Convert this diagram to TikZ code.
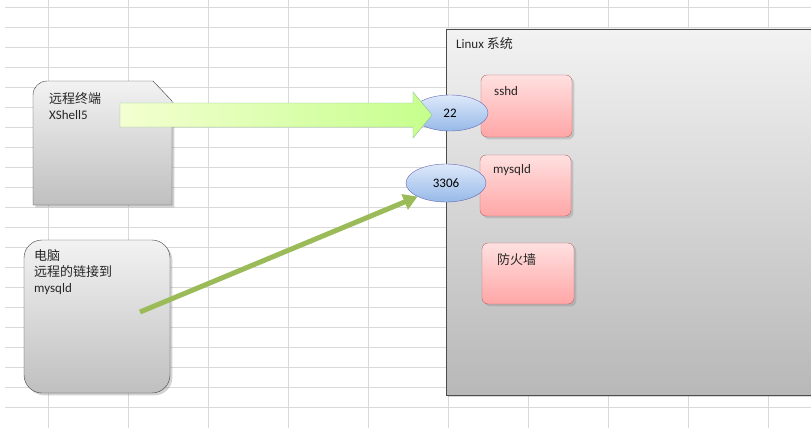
\documentclass[tikz,border=0pt]{standalone}
\usepackage{fontspec}
\setmainfont{Carlito}
\newfontfamily\cjk{Noto Sans CJK SC}
\usetikzlibrary{shapes.geometric,shapes.misc,shadows,arrows.meta}
\definecolor{portA}{RGB}{222,233,250}
\definecolor{portB}{RGB}{150,185,232}
\begin{document}
\begin{tikzpicture}[x=1pt,y=-1pt,
  lbl/.style={font=\fontsize{13}{16}\selectfont,text=black!85,align=left,anchor=north west,inner sep=0},
  svc/.style={draw=red!55!black!60,rounded corners=6pt,top color=red!12,bottom color=red!35,drop shadow={opacity=0.3}},
  port/.style={ellipse,draw=blue!50!black!60,top color=portA,bottom color=portB,inner sep=0,font=\fontsize{13}{15}\selectfont},
  grey/.style={draw=black!75,top color=black!5,bottom color=black!25,drop shadow={opacity=0.35}}]
\useasboundingbox (0,0) rectangle (811,428);
\fill[white] (0,0) rectangle (811,428);
\foreach \x in {48,128,208,288,368,448,528,608,688,768} \draw[black!15] (\x,0) -- (\x,428);
\foreach \k in {0,...,20} \draw[black!15] (5,7+20*\k) -- (811,7+20*\k);
% Linux box
\shade[top color=black!5,bottom color=black!28,draw=black!70,drop shadow={opacity=0.3}] (446,29) rectangle (815,395);
\node[lbl] (linux) at (456,37) {Linux {\cjk 系统}};
% services
\draw[svc] (481,75) rectangle (572,137); \node[lbl] (sshd) at (494,86) {sshd};
\draw[svc] (480,155) rectangle (571,216); \node[lbl] (mysqld) at (493,164) {mysqld};
\draw[svc] (482,243) rectangle (574,304); \node[lbl] (fw) at (497,253) {\cjk 防火墙};
% left boxes
\draw[grey] (33,205) [rounded corners=14pt] -- (33,81) [sharp corners] -- (153,81) -- (172,101) -- (172,205) -- cycle;
\node[lbl] (term) at (49,92) {{\cjk 远程终端}\\[0pt]XShell5};
\draw[grey,rounded corners=18pt] (24,240) rectangle (170,393);
\node[lbl] (pc) at (34,249) {{\cjk 电脑}\\[0pt]{\cjk 远程的链接到}\\[0pt]mysqld};
% ports
\node[port,minimum width=76,minimum height=36] (p22) at (450,113) {22};
\node[port,minimum width=80,minimum height=38] (p3306) at (446,183) {3306};
% fat arrow
\coordinate (a0) at (120,115);
\coordinate (a1) at (432,115);
\shade[left color=green!25!yellow!18!white,right color=green!50!yellow!45,draw=green!45!black!45]
 (a0) ++(0,-12) -- (413,103) -- (413,92) -- (a1) -- (413,138) -- (413,127) -- (120,127) -- cycle;
% green arrow
\coordinate (g0) at (140,312);
\draw[line width=5pt,color={rgb,255:red,155;green,187;blue,89},-{Triangle[length=14pt,width=16pt]}] (g0) -- (p3306.south west);
\end{tikzpicture}
\end{document}
